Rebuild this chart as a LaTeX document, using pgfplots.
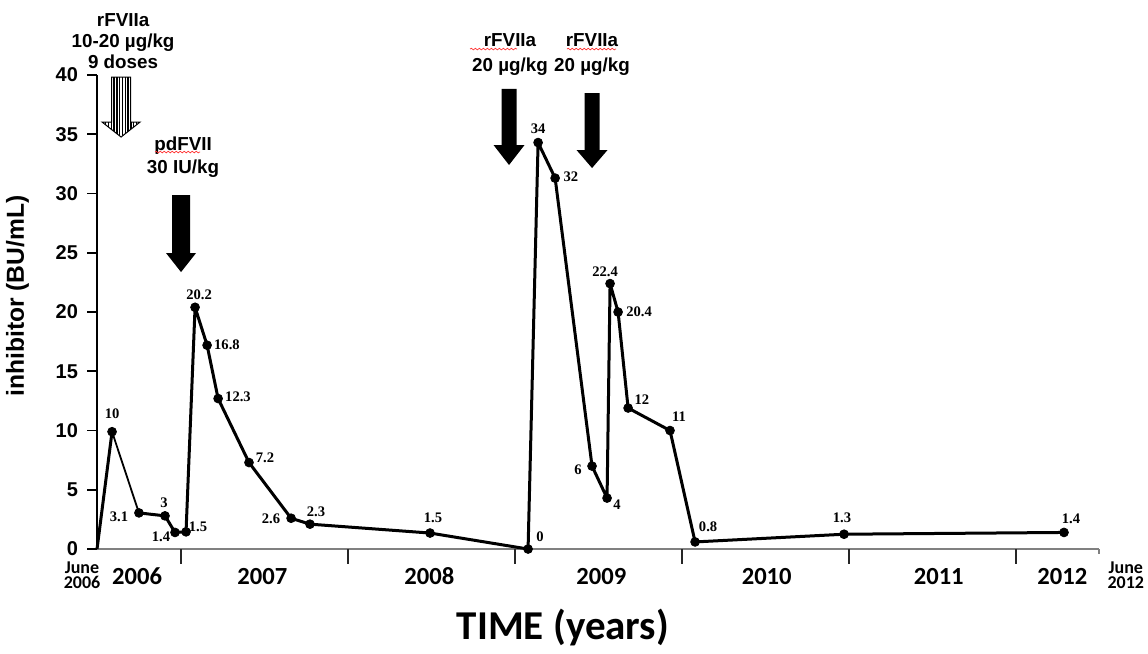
\documentclass[border=0pt]{standalone}
\usepackage{fontspec}
\setmainfont{Liberation Sans}
\newfontfamily\carlito{Carlito}
\newfontfamily\lserif{Liberation Serif}
\usepackage{pgfplots}
\pgfplotsset{compat=1.18}
\usetikzlibrary{decorations.pathmorphing}

% solid block arrow pointing down: #1 top centre, #2 shaft half width,
% #3 head half width, #4 shaft length, #5 total length (pt)
\newcommand{\blockarrow}[5]{%
  \fill[black,shift={(#1)}] (-#2pt,0) -- (#2pt,0) -- (#2pt,-#4pt) -- (#3pt,-#4pt)
    -- (0,-#5pt) -- (-#3pt,-#4pt) -- (-#2pt,-#4pt) -- cycle;}

\pgfplotstableread{
x      y
0.090  9.9
0.251  3.05
0.407  2.8
0.467  1.4
0.533  1.45
0.587  20.4
0.659  17.2
0.725  12.7
0.910  7.3
1.162  2.6
1.275  2.1
1.994  1.35
2.581  0.0
2.641  34.3
2.743  31.3
2.964  7.0
3.054  4.3
3.072  22.4
3.120  20.0
3.180  11.9
3.431  10.0
3.581  0.6
4.473  1.25
5.790  1.4
}\inhib

\begin{document}
\begin{tikzpicture}
\begin{axis}[
    scale only axis,
    width=501pt, height=237pt,
    xmin=0, xmax=6, ymin=0, ymax=40,
    axis lines=left,
    axis line style={-},
    x axis line style={draw=gray, line width=1pt},
    y axis line style={draw=black, line width=0.8pt},
    xtick=\empty,
    ytick={0,5,...,40},
    tick align=outside,
    major tick length=5pt,
    y tick style={black, line width=0.8pt},
    /pgf/number format/assume math mode=true,
    yticklabel style={font=\bfseries\fontsize{10}{10}\selectfont, xshift=-1pt},
    ylabel={\bfseries inhibitor (BU/mL)},
    ylabel style={font=\fontsize{12.3}{13}\selectfont, yshift=6.5pt, xshift=8pt},
    clip=false,
]
% line
\addplot[black, line width=1.5pt] coordinates {(0,0) (0.090,9.9)};
\addplot[black, line width=0.9pt] coordinates {(0.090,9.9) (0.251,3.05)};
\addplot[black, line width=1.5pt, line join=round] table[x=x,y=y, skip coords between index={0}{1}] {\inhib};
\addplot[only marks, mark=*, mark size=2.2pt, black] table[x=x,y=y] {\inhib};

% x ticks
\pgfplotsinvokeforeach{0.5,1.5,2.5,3.5,4.5,5.5}{
  \draw[line width=1pt, black!85] (axis cs:#1,0) -- ++(0,-7.5pt);
}
\draw[line width=1pt, gray] (axis cs:6,0) -- ++(0,-2.5pt);

% data labels
\begin{scope}[every node/.style={font=\lserif\bfseries\fontsize{7.3}{8}\selectfont, inner sep=0pt}]
\node at (axis cs:0.090,11.39) {10};
\node at (axis cs:0.132,2.70) {3.1};
\node at (axis cs:0.401,3.88) {3};
\node at (axis cs:0.383,1.01) {1.4};
\node at (axis cs:0.605,1.86) {1.5};
\node at (axis cs:0.611,21.43) {20.2};
\node at (axis cs:0.778,17.22) {16.8};
\node at (axis cs:0.844,12.83) {12.3};
\node at (axis cs:1.006,7.68) {7.2};
\node at (axis cs:1.042,2.53) {2.6};
\node at (axis cs:1.311,3.12) {2.3};
\node at (axis cs:2.012,2.62) {1.5};
\node at (axis cs:2.653,1.01) {0};
\node at (axis cs:2.641,35.44) {34};
\node at (axis cs:2.838,31.39) {32};
\node at (axis cs:2.880,6.67) {6};
\node at (axis cs:3.114,3.71) {4};
\node at (axis cs:3.042,23.38) {22.4};
\node at (axis cs:3.246,20.0) {20.4};
\node at (axis cs:3.263,12.57) {12};
\node at (axis cs:3.485,11.14) {11};
\node at (axis cs:3.659,1.86) {0.8};
\node at (axis cs:4.461,2.62) {1.3};
\node at (axis cs:5.832,2.53) {1.4};
\end{scope}

% year labels
\begin{scope}[every node/.style={font=\carlito\bfseries\fontsize{12.3}{13}\selectfont, inner sep=0pt}]
\node at (axis cs:0.24,-2.28) {2006};
\node at (axis cs:0.99,-2.28) {2007};
\node at (axis cs:1.99,-2.28) {2008};
\node at (axis cs:3.02,-2.28) {2009};
\node at (axis cs:4.01,-2.28) {2010};
\node at (axis cs:5.04,-2.28) {2011};
\node at (axis cs:5.78,-2.28) {2012};
\end{scope}
\node[font=\carlito\bfseries\fontsize{9}{7.5}\selectfont, align=center, inner sep=0pt] at (axis cs:-0.09,-2.2) {June\\2006};
\node[font=\carlito\bfseries\fontsize{9}{7.5}\selectfont, align=center, inner sep=0pt] at (axis cs:6.16,-2.2) {June\\2012};
\node[font=\carlito\bfseries\fontsize{20.5}{21}\selectfont, inner sep=0pt] at (axis cs:2.79,-6.58) {TIME (years)};

% treatment annotations
\begin{scope}[every node/.style={font=\bfseries\fontsize{9.4}{10.5}\selectfont, align=center, inner sep=0pt}]
\node at (axis cs:0.156,42.87) {rFVIIa\\10-20 µg/kg\\9 doses};
\node[font=\bfseries\fontsize{9.4}{11.5}\selectfont] at (axis cs:0.515,33.08) {pdFVII\\30 IU/kg};
\node[font=\bfseries\fontsize{9.4}{12.5}\selectfont] at (axis cs:2.473,41.77) {rFVIIa\\20 µg/kg};
\node[font=\bfseries\fontsize{9.4}{12.5}\selectfont] at (axis cs:2.964,41.69) {rFVIIa\\20 µg/kg};
\end{scope}
\begin{scope}[red!80, line width=0.35pt, decorate, decoration={snake, amplitude=0.4pt, segment length=2pt}]
\draw[decorate] (axis cs:0.347,33.5) -- (axis cs:0.617,33.5);
\draw[decorate] (axis cs:2.234,42.19) -- (axis cs:2.515,42.19);
\draw[decorate] (axis cs:2.814,42.19) -- (axis cs:3.108,42.19);
\end{scope}

\coordinate (A1) at (axis cs:0.144,39.83);
\coordinate (A2) at (axis cs:0.503,29.87);
\coordinate (A3) at (axis cs:2.467,38.82);
\coordinate (A4) at (axis cs:2.964,38.48);
\coordinate (bbll) at (axis cs:-0.581,-8.78);
\coordinate (bbur) at (axis cs:6.293,46.33);
\end{axis}

% striped arrow
\begin{scope}[shift={(A1)}]
  \begin{scope}
    \clip (-4.75pt,0) -- (4.75pt,0) -- (4.75pt,-22.5pt) -- (9.5pt,-22.5pt) -- (0,-30pt)
      -- (-9.5pt,-22.5pt) -- (-4.75pt,-22.5pt) -- cycle;
    \foreach \s in {-9.1,-7.7,...,9.5} \draw[line width=0.65pt] (\s pt,1pt) -- (\s pt,-31pt);
  \end{scope}
  \draw[line width=0.5pt] (-4.75pt,0) -- (4.75pt,0) -- (4.75pt,-22.5pt) -- (9.5pt,-22.5pt) -- (0,-30pt)
      -- (-9.5pt,-22.5pt) -- (-4.75pt,-22.5pt) -- cycle;
\end{scope}
\blockarrow{A2}{4.5}{7.5}{29}{38.5}
\blockarrow{A3}{3.75}{7.75}{28}{38}
\blockarrow{A4}{3.75}{7.75}{28.5}{37.5}

\pgfresetboundingbox
\path[use as bounding box] (bbll) rectangle (bbur);
\end{tikzpicture}
\end{document}
